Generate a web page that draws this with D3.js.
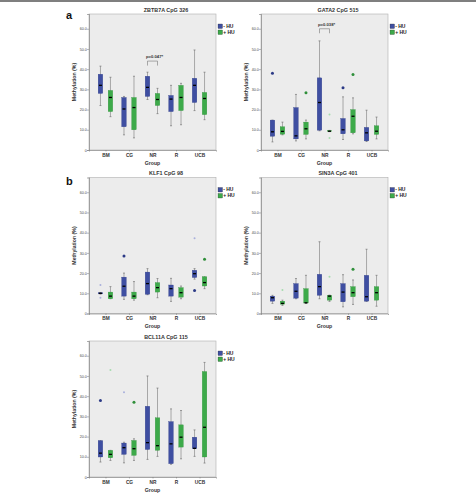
<!DOCTYPE html>
<html>
<head>
<meta charset="utf-8">
<script src="https://cdn.jsdelivr.net/npm/d3@7"></script>
<style>
  body { margin: 0; background: #fff; }
  text { font-family: "Liberation Sans", Arial, sans-serif; }
</style>
</head>
<body>
<div id="fig"></div>
<script>
// groups / series / ticks
const groups = ["BM", "CG", "NR", "R", "UCB"];
const series = ["- HU", "+ HU"];
const yTicks = [0, 10, 20, 30, 40, 50, 60];

// box stats per group: [min, q1, median, q3, max] (% methylation)
const zbtb7aNeg = [[22,28,32,37.5,41.5],[7.5,11.5,20.3,26,26.5],[25,26.5,31,36.5,38.5],[12,19,25.2,27,32],[19.5,23.5,32,35.5,49.5]];
const zbtb7aPos = [[16.5,19,26,29.5,36],[6,10,21,26,36.5],[18,22,25,28,30.5],[12.5,19.5,26,32,33],[15,17.5,25.5,28.5,38.5]];
const zbtb7aOut = [];

const gata2Neg = [[4,6.8,9,14.8,14.8],[4.5,5.5,7,21,27.5],[9.5,9.8,23.5,35.7,54],[5.2,8,10,15.6,26.3],[4.2,4.5,8.5,11.2,19.7]];
const gata2Pos = [[7.5,7.8,9.2,11.5,13.8],[5.5,7.7,10.5,13.8,14.8],[9.1,9.2,9.3,9.6,9.7],[8,8.5,16.7,20,25.8],[5.5,7.7,9.3,12,16.3]];
const gata2Out = [["BM","- HU",38,"o"],["CG","+ HU",28.3,"o"],["NR","+ HU",17.6,"*"],["NR","+ HU",6,"*"],["R","- HU",30.8,"o"],["R","+ HU",37.4,"o"]];

const klf1Neg = [[9.6,9.7,10,10.3,10.4],[7,8.6,13.5,18,20],[9.3,9.5,14.8,20.5,22.2],[6,8.6,12.3,14.1,17.4],[17,17.8,19.7,21.4,22.2]];
const klf1Pos = [[7.3,7.3,8.6,10.6,13.3],[6.6,7.3,8.6,10.6,15.8],[7.8,10.6,12.8,15.3,17.3],[7.3,8.1,10.3,12.8,13.6],[12.3,13.6,15.3,18.2,18.2]];
const klf1Out = [["BM","- HU",14.1,"*"],["BM","- HU",7.8,"*"],["CG","- HU",28.5,"o"],["UCB","- HU",37.2,"*"],["UCB","- HU",11.4,"o"],["UCB","+ HU",26.9,"o"]];

const sin3aNeg = [[5,6.1,7.8,8.6,9],[7.3,7.6,11,14.8,17.3],[7.3,9,13.3,19.4,35.5],[3.3,5.8,10.6,14.8,19.2],[6,6.1,8.3,18.9,31.8]];
const sin3aPos = [[4,4.6,5,6.1,6.6],[5,5.2,5.3,12.3,18.9],[6,6.6,8.6,9,9.1],[4.5,8.3,10.3,13.3,16.6],[3.6,6.6,10.3,13.3,18.9]];
const sin3aOut = [["BM","+ HU",11.6,"*"],["NR","+ HU",18.2,"*"],["R","+ HU",21.9,"o"]];

const bcl11aNeg = [[7.4,9.9,11.8,18,18],[7,11.2,14.5,16.8,17.2],[8.7,13.6,17,35,50],[6.3,6.6,16.4,27.4,33.7],[10.2,14,14.2,19.7,23.3]];
const bcl11aPos = [[8.2,9.5,11.2,13.2,13.2],[8.2,10.7,14,18.1,18.9],[10.2,13.2,15.5,29.3,44],[9,14.8,19.7,25.8,32.9],[6.9,9.9,24.6,52.2,56.7]];
const bcl11aOut = [["BM","- HU",37.8,"o"],["BM","+ HU",52.9,"*"],["CG","- HU",41.9,"*"],["CG","+ HU",37,"o"]];

const panels = [
  { title: "ZBTB7A CpG 326", neg: zbtb7aNeg, pos: zbtb7aPos, out: zbtb7aOut, left: 89,  top: 14,  tag: "a",
    sig: { group: "NR", text: "p=0.047*", y: 44 } },
  { title: "GATA2 CpG 515",  neg: gata2Neg,  pos: gata2Pos,  out: gata2Out,  left: 261, top: 14,
    sig: { group: "NR", text: "p=0.038*", y: 60 } },
  { title: "KLF1 CpG 98",    neg: klf1Neg,   pos: klf1Pos,   out: klf1Out,   left: 89,  top: 177.5, tag: "b" },
  { title: "SIN3A CpG 401",  neg: sin3aNeg,  pos: sin3aPos,  out: sin3aOut,  left: 261, top: 177.5 },
  { title: "BCL11A CpG 115", neg: bcl11aNeg, pos: bcl11aPos, out: bcl11aOut, left: 89,  top: 341 }
];

const W = 476, H = 496;
const pw = 127, ph = 136;
const colors = { "- HU": "#3f4fa2", "+ HU": "#3daa4a" };
const light = { "- HU": "#a9b0dc", "+ HU": "#a6dcae" };
const dark = { "- HU": "#2c3a86", "+ HU": "#2f8f3a" };

const svg = d3.select("#fig").append("svg")
  .attr("width", W).attr("height", H);

svg.append("line")
  .attr("x1", 0).attr("x2", W).attr("y1", 1).attr("y2", 1)
  .attr("stroke", "#555").attr("stroke-width", 1.5);

const x = d3.scalePoint().domain(groups).range([0, pw]).padding(0.7);
const sub = d3.scalePoint().domain(series).range([-5, 5]);
const y = d3.scaleLinear().domain([0, 67.3]).range([ph, 0]);
const bw = 4.6;

panels.forEach(p => {
  const g = svg.append("g").attr("transform", `translate(${p.left},${p.top})`);

  g.append("rect").attr("width", pw).attr("height", ph)
    .attr("fill", "#ececec").attr("stroke", "#b0b0b0").attr("stroke-width", 0.6);

  // axes
  const ya = g.append("g").call(d3.axisLeft(y).tickValues(yTicks).tickSize(2)
    .tickFormat(d => d === 0 ? "0" : d3.format(".1f")(d)));
  ya.select(".domain").attr("stroke", "#777").attr("stroke-width", 0.6);
  ya.selectAll(".tick line").attr("stroke", "#777").attr("stroke-width", 0.5);
  ya.selectAll(".tick text").attr("font-size", 3.6).attr("fill", "#444").attr("x", -2.2)
    .attr("font-family", "Liberation Sans, Arial, sans-serif");

  const xa = g.append("g").attr("transform", `translate(0,${ph})`)
    .call(d3.axisBottom(x).tickSize(1.5).tickPadding(2));
  xa.select(".domain").attr("stroke", "#777").attr("stroke-width", 0.6);
  xa.selectAll(".tick line").attr("stroke", "#777").attr("stroke-width", 0.5);
  xa.selectAll(".tick text").attr("font-size", 4.8).attr("font-weight", "bold").attr("fill", "#333")
    .attr("font-family", "Liberation Sans, Arial, sans-serif");

  g.append("text").attr("x", pw / 2).attr("y", ph + 14.5).attr("text-anchor", "middle")
    .attr("font-size", 5.2).attr("font-weight", "bold").attr("fill", "#333").text("Group");

  g.append("text").attr("transform", `translate(-13,${ph / 2}) rotate(-90)`)
    .attr("text-anchor", "middle").attr("font-size", 5.2).attr("font-weight", "bold").attr("fill", "#333")
    .text("Methylation (%)");

  g.append("text").attr("x", 77).attr("y", -2.5).attr("text-anchor", "middle")
    .attr("font-size", 5.4).attr("font-weight", "bold").attr("fill", "#333").text(p.title);

  if (p.tag) {
    svg.append("text").attr("x", p.left - 23).attr("y", p.top + (p.tag === "a" ? 4.5 : 7.5))
      .attr("font-size", 11).attr("font-weight", "bold").attr("fill", "#111").text(p.tag);
  }

  // legend
  const lg = g.append("g").attr("transform", `translate(${pw + 2},${10})`);
  series.forEach((s, i) => {
    lg.append("rect").attr("x", 0).attr("y", i * 6).attr("width", 4.5).attr("height", 4.5)
      .attr("fill", colors[s]).attr("stroke", "#333").attr("stroke-width", 0.3);
    lg.append("text").attr("x", 5.2).attr("y", i * 6 + 3.9).attr("font-size", 5)
      .attr("font-weight", "bold").attr("fill", "#222").text(s);
  });

  // boxes
  const rows = [];
  groups.forEach((grp, i) => {
    rows.push({ grp, s: "- HU", v: p.neg[i] });
    rows.push({ grp, s: "+ HU", v: p.pos[i] });
  });

  const bx = g.selectAll(".bx").data(rows).enter().append("g")
    .attr("transform", d => `translate(${x(d.grp) + sub(d.s)},0)`);

  bx.append("line").attr("y1", d => y(d.v[0])).attr("y2", d => y(d.v[4]))
    .attr("stroke", "#8a8a8a").attr("stroke-width", 0.7);
  bx.append("line").attr("x1", -1).attr("x2", 1).attr("y1", d => y(d.v[4])).attr("y2", d => y(d.v[4]))
    .attr("stroke", "#666").attr("stroke-width", 0.6);
  bx.append("line").attr("x1", -1).attr("x2", 1).attr("y1", d => y(d.v[0])).attr("y2", d => y(d.v[0]))
    .attr("stroke", "#666").attr("stroke-width", 0.6);
  bx.append("rect").attr("x", -bw / 2).attr("width", bw)
    .attr("y", d => y(d.v[3])).attr("height", d => Math.max(0.8, y(d.v[1]) - y(d.v[3])))
    .attr("fill", d => colors[d.s]).attr("stroke", d => dark[d.s]).attr("stroke-width", 0.3);
  bx.append("line").attr("x1", -bw / 2 + 0.8).attr("x2", bw / 2 - 0.8)
    .attr("y1", d => y(d.v[2])).attr("y2", d => y(d.v[2]))
    .attr("stroke", "#000").attr("stroke-width", 1.3);

  // outliers / extremes
  g.selectAll(".out").data(p.out).enter().append("circle")
    .attr("cx", d => x(d[0]) + sub(d[1]))
    .attr("cy", d => y(d[2]))
    .attr("r", d => d[3] === "o" ? 1.5 : 1)
    .attr("fill", d => d[3] === "o" ? dark[d[1]] : light[d[1]])
    .attr("stroke", "none");

  // significance bracket
  if (p.sig) {
    const x1 = x(p.sig.group) + sub("- HU"), x2 = x(p.sig.group) + sub("+ HU");
    const yt = y(p.sig.y), yb = yt + 4.5;
    g.append("path").attr("d", `M${x1},${yb}V${yt}H${x2}V${yb}`)
      .attr("fill", "none").attr("stroke", "#777").attr("stroke-width", 0.6);
    g.append("text").attr("x", x1 - 1.5).attr("y", yt - 3).attr("font-size", 4.2)
      .attr("font-weight", "bold").attr("fill", "#333").text(p.sig.text);
  }
});
</script>
</body>
</html>
